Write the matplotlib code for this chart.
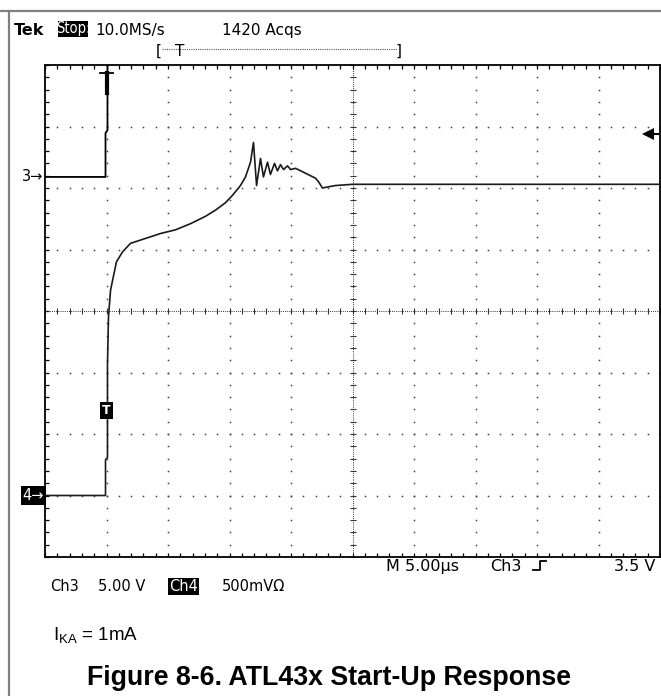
import numpy as np
import matplotlib
matplotlib.use("Agg")
import matplotlib.pyplot as plt
from matplotlib.lines import Line2D
from matplotlib.patches import Rectangle

W, H = 661, 696

# time base: 5 us/div, 10 div, trigger 1 div from the left edge
t_min, t_max = -5.0, 45.0
us_per_div = 5.0
t_centre = 20.0

# channel settings (V/div, ground position in divisions from centre)
ch3_scale, ch3_offset = 5.0, 2.18
ch4_scale, ch4_offset = 0.5, -3.0
trig_level = 3.5  # V on Ch3

# Ch3: supply step (V)
ch3_t = [-5.0, -0.08, -0.08, 0.08, 0.08]
ch3_v = [0.0, 0.0, 3.57, 3.8, 10.0]

# Ch4: ATL43x cathode voltage (V)
ch4_t = [-5.0, -0.08, -0.08, 0.08, 0.08, 0.16, 0.33, 0.81, 1.30, 1.95, 3.17,
         4.39, 5.61, 6.83, 8.05, 8.86, 9.67, 10.24, 10.89, 11.30, 11.71,
         11.95, 12.20, 12.52, 12.76, 13.09, 13.33, 13.66, 13.90, 14.15, 14.39,
         14.72, 14.96, 15.37, 16.18, 16.99, 17.24, 17.56, 18.05, 18.62, 20.0,
         45.0]
ch4_v = [0.0, 0.0, 0.29, 0.31, 1.06, 1.45, 1.67, 1.90, 1.98, 2.05, 2.09,
         2.13, 2.16, 2.21, 2.27, 2.32, 2.38, 2.44, 2.52, 2.59, 2.71,
         2.87, 2.52, 2.74, 2.59, 2.71, 2.61, 2.70, 2.64, 2.69, 2.65,
         2.68, 2.65, 2.66, 2.62, 2.58, 2.55, 2.50, 2.51, 2.52, 2.53,
         2.53]
ch4_trig_mark = 0.69


def px(x, y):
    return x / W, 1 - y / H


def inverse_label(x0, y0, x1, y1, text, size, **kw):
    # white text on a black block, box given in pixels
    fig.add_artist(Rectangle(px(x0, y1), (x1 - x0) / W, (y1 - y0) / H,
                             fc="black", ec="none"))
    fig.text(*px((x0 + x1) / 2, (y0 + y1) / 2), text, fontsize=size,
             color="white", ha="center", va="center", **kw)


fig = plt.figure(figsize=(W / 100, H / 100), dpi=100)

# page frame
fig.add_artist(Line2D([0, 1], [1 - 11 / H] * 2, color="#808080", lw=1.6))
fig.add_artist(Line2D([9 / W] * 2, [0, 1 - 11 / H], color="#808080", lw=1.6))

# graticule
ax = fig.add_axes([45 / W, 1 - 557 / H, 615 / W, 492 / H])
ax.set_xlim(t_min, t_max)
ax.set_ylim(-4, 4)
ax.set_xticks(np.arange(t_min, t_max + 0.1, us_per_div))
ax.set_xticks(np.arange(t_min, t_max + 0.1, 1.0), minor=True)
ax.set_yticks(np.arange(-4, 4.1, 1))
ax.set_yticks(np.arange(-4, 4.1, 0.2), minor=True)
ax.tick_params(which="both", direction="in", length=3, width=0.9,
               top=True, right=True, labelleft=False, labelbottom=False)
for s in ax.spines.values():
    s.set_linewidth(1.3)

for tx in np.arange(0, t_max, us_per_div):
    if tx == t_centre:
        continue
    yy = np.arange(-4, 4.01, 0.2)
    ax.plot(np.full_like(yy, tx), yy, ls="none", marker="s", ms=1.1,
            color="#444444", mew=0)
for gy in range(-3, 4):
    if gy == 0:
        continue
    xx = np.arange(t_min, t_max + 0.01, 1.0)
    ax.plot(xx, np.full_like(xx, gy), ls="none", marker="s", ms=1.1,
            color="#444444", mew=0)

# centre cross with fine ticks
ax.axvline(t_centre, ls=(0, (1, 1.2)), lw=0.7, color="#333333")
ax.axhline(0, ls=(0, (1, 1.2)), lw=0.7, color="#333333")
xx = np.arange(t_min, t_max + 0.01, 1.0)
ax.plot(xx, np.zeros_like(xx), ls="none", marker="|", ms=5, mew=0.8,
        color="#333333")
yy = np.arange(-4, 4.01, 0.2)
ax.plot(np.full_like(yy, t_centre), yy, ls="none", marker="_", ms=5, mew=0.8,
        color="#333333")

# channel axes in volts
ax3 = ax.twinx()
ax3.set_ylim((-4 - ch3_offset) * ch3_scale, (4 - ch3_offset) * ch3_scale)
ax3.set_axis_off()
ax4 = ax.twinx()
ax4.set_ylim((-4 - ch4_offset) * ch4_scale, (4 - ch4_offset) * ch4_scale)
ax4.set_axis_off()

ax3.plot(ch3_t, ch3_v, color="black", lw=1.3)
ax4.plot(ch4_t, ch4_v, color="#1a1a1a", lw=1.2)

# ground markers
ax3.text(t_min - 0.1, 0, "3\u2192", ha="right", va="center", fontsize=10.5,
         clip_on=False)
ax4.text(t_min - 0.1, 0, "4\u2192", ha="right", va="center", fontsize=10.5,
         color="white", clip_on=False,
         bbox=dict(boxstyle="square,pad=0.12", fc="black", ec="none"))

# trigger marks
ax4.text(0, ch4_trig_mark, "T", ha="center", va="center", fontsize=9,
         color="white", fontweight="bold",
         bbox=dict(boxstyle="square,pad=0.15", fc="black", ec="none"))
ax3.plot([t_max - 1.0], [trig_level], marker="<", ms=8, color="black", mew=0,
         clip_on=False)
ax3.plot([t_max - 1.0, t_max], [trig_level, trig_level], color="black", lw=1.5)
ax.plot([-0.55, 0.55], [3.87, 3.87], color="black", lw=1.3)
ax.plot([0.0, 0.0], [3.87, 3.55], color="black", lw=3)

# header
fig.text(*px(14, 35), "Tek", fontsize=11.5, fontweight="bold", va="baseline")
inverse_label(58, 21, 88, 37, "Stop:", 10.5, fontstretch="condensed")
fig.text(*px(95, 35), "10.0MS/s", fontsize=11, va="baseline")
fig.text(*px(222, 35), "1420 Acqs", fontsize=11, va="baseline")
fig.text(*px(156, 56), "[", fontsize=11, va="baseline")
fig.text(*px(396, 56), "]", fontsize=11, va="baseline")
fig.text(*px(180, 56), "T", fontsize=11, va="baseline", ha="center")
fig.add_artist(Line2D([162 / W, 397 / W], [1 - 49 / H] * 2, color="#555555",
                      lw=0.8, ls=(0, (1, 1))))

# footer readouts
fig.text(*px(386, 571), "M 5.00\u00b5s", fontsize=11.5, va="baseline")
fig.text(*px(490, 571), "Ch3", fontsize=11.5, va="baseline")
fig.add_artist(Line2D([533 / W, 540 / W, 540 / W, 546 / W],
                      [1 - 570 / H, 1 - 570 / H, 1 - 561 / H, 1 - 561 / H],
                      color="black", lw=1.3))
fig.text(*px(655, 571), "3.5 V", fontsize=11.5, va="baseline", ha="right")
fig.text(*px(50, 591), "Ch3", fontsize=10.5, va="baseline")
fig.text(*px(98, 591), "5.00 V", fontsize=10.5, va="baseline")
inverse_label(168, 578, 199, 595, "Ch4", 10.5)
fig.text(*px(222, 591), "500mV\u03a9", fontsize=10.5, va="baseline")

fig.text(*px(53, 641), r"I$_{\mathregular{KA}}$ = 1mA", fontsize=13.5,
         va="baseline", family="Liberation Sans")
fig.text(*px(329, 685), "Figure 8-6. ATL43x Start-Up Response", fontsize=19.3,
         fontweight="bold", va="baseline", ha="center",
         family="Liberation Sans")

fig.savefig("out.png", dpi=100)
